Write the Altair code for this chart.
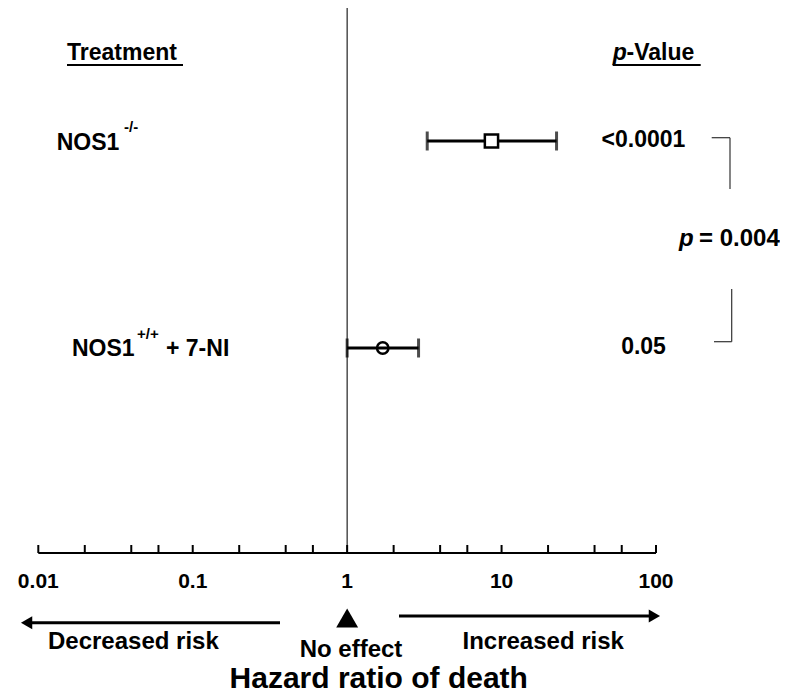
import altair as alt
import pandas as pd

# ---- data ----
treatments = ["NOS1 -/-", "NOS1 +/+ + 7-NI"]
hazard_ratio = [8.6, 1.7]
ci_low = [3.3, 1.0]
ci_high = [22.7, 2.9]
p_values = ["<0.0001", "0.05"]
tick_values = [0.01, 0.02, 0.04, 0.06, 0.1, 0.2, 0.4, 0.6, 1, 2, 4, 6, 10, 20, 40, 60, 100]
label_values = [0.01, 0.1, 1, 10, 100]

FONT = "Liberation Sans"
W, H = 772, 686
AXIS_Y = 545

df = pd.DataFrame({"row": treatments, "hr": hazard_ratio, "lo": ci_low,
                   "hi": ci_high, "p": p_values})

xscale = alt.Scale(type="log", domain=[0.01, 100], range=[30.3, 648])
yscale = alt.Scale(type="point", domain=treatments, range=[133, 340], padding=0)

base = alt.Chart(df)
Y = alt.Y("row:N", scale=yscale, axis=None)


def X(field):
    return alt.X(field, scale=xscale, axis=None)


ci = base.mark_rule(strokeWidth=3, color="black").encode(
    x=X("lo:Q"), x2="hi:Q", y=Y)
cap_lo = base.mark_tick(size=19, thickness=3, color="black").encode(
    x=X("lo:Q"), y=Y)
cap_hi = base.mark_tick(size=19, thickness=3, color="black").encode(
    x=X("hi:Q"), y=Y)
sq = base.transform_filter(alt.datum.row == treatments[0]).mark_point(
    shape="square", size=175, filled=True, fill="white", stroke="black",
    strokeWidth=2.5, opacity=1).encode(x=X("hr:Q"), y=Y)
circ = base.transform_filter(alt.datum.row == treatments[1]).mark_point(
    shape="circle", size=130, filled=False, stroke="black",
    strokeWidth=2.5, opacity=1).encode(x=X("hr:Q"), y=Y)
ptext = base.mark_text(align="center", baseline="middle", dy=-1, font=FONT,
                       fontSize=23, fontWeight="bold", color="black").encode(
    x=alt.value(635.5), y=Y, text="p:N")

# x axis: domain line, upward ticks, labels -- all through the log scale
axis_line = alt.Chart(pd.DataFrame({"a": [label_values[0]], "b": [label_values[-1]]})).mark_rule(
    strokeWidth=2, color="black").encode(
    x=X("a:Q"), x2="b:Q", y=alt.value(AXIS_Y))
ticks = alt.Chart(pd.DataFrame({"v": tick_values})).mark_rule(
    strokeWidth=2, color="black").encode(
    x=X("v:Q"), y=alt.value(AXIS_Y - 8), y2=alt.value(AXIS_Y))
tick_labels = alt.Chart(pd.DataFrame({"v": label_values})).transform_calculate(
    lab="format(datum.v, '~g')").mark_text(
    align="center", baseline="alphabetic", font=FONT, fontSize=21,
    fontWeight="bold", color="black").encode(
    x=X("v:Q"), y=alt.value(579.5), text="lab:N")

vline = alt.Chart(pd.DataFrame({"v": [1]})).mark_rule(
    strokeWidth=1.2, color="#222").encode(
    x=X("v:Q"), y=alt.value(0), y2=alt.value(AXIS_Y))
no_effect_tri = alt.Chart(pd.DataFrame({"v": [1]})).mark_point(
    shape="triangle-up", size=480, filled=True, color="black", opacity=1).encode(
    x=X("v:Q"), y=alt.value(610))


def txt(text, x, y, size=23, italic=False, align="left"):
    return alt.Chart(pd.DataFrame({"t": [text]})).mark_text(
        align=align, baseline="alphabetic", font=FONT, fontSize=size,
        fontWeight="bold", fontStyle="italic" if italic else "normal",
        color="black").encode(x=alt.value(x), y=alt.value(y), text="t:N")


def seg(x1, x2, y1, y2, w=1.2, color="#333"):
    return alt.Chart(pd.DataFrame({"a": [0]})).mark_rule(
        strokeWidth=w, color=color).encode(
        x=alt.value(x1), x2=alt.value(x2), y=alt.value(y1), y2=alt.value(y2))


def arrowhead(shape, x, y):
    return alt.Chart(pd.DataFrame({"a": [0]})).mark_point(
        shape=shape, size=170, filled=True, color="black", opacity=1).encode(
        x=alt.value(x), y=alt.value(y))


layers = [
    vline, axis_line, ticks, tick_labels, ci, cap_lo, cap_hi, sq, circ, ptext,
    no_effect_tri,
    txt("Treatment", 59, 52), seg(59, 175, 57, 57, 2.2, "black"),
    txt("p", 604.7, 52, italic=True), txt("-Value", 618.5, 52),
    seg(604.7, 692.7, 57, 57, 2.2, "black"),
    txt("NOS1", 48.7, 142), txt("-/-", 116, 124, size=15),
    txt("NOS1", 64, 347.5), txt("+/+", 129, 331, size=15), txt("+ 7-NI", 158, 347.5),
    txt("p", 671, 238, italic=True, size=24), txt("= 0.004", 691, 238, size=24),
    seg(703.7, 722, 129.7, 129.7), seg(722, 722, 129.7, 181),
    seg(723.7, 723.7, 281, 333.7), seg(706, 723.7, 333.7, 333.7),
    seg(18, 272, 614.7, 614.7, 3, "black"), arrowhead("triangle-left", 18.6, 614.7),
    seg(391, 646, 608, 608, 3, "black"), arrowhead("triangle-right", 646.4, 608),
    txt("Decreased risk", 40, 640.5, size=24),
    txt("No effect", 343, 648.5, size=24, align="center"),
    txt("Increased risk", 454.5, 640.5, size=24),
    txt("Hazard ratio of death", 370.75, 679.5, size=30, align="center"),
]

chart = alt.layer(*layers).properties(
    width=W, height=H, autosize=alt.AutoSizeParams(type="none"), padding=0,
    background="white"
).configure_view(stroke=None)

chart.save("out.html", embed_options={"renderer": "svg", "actions": False})
